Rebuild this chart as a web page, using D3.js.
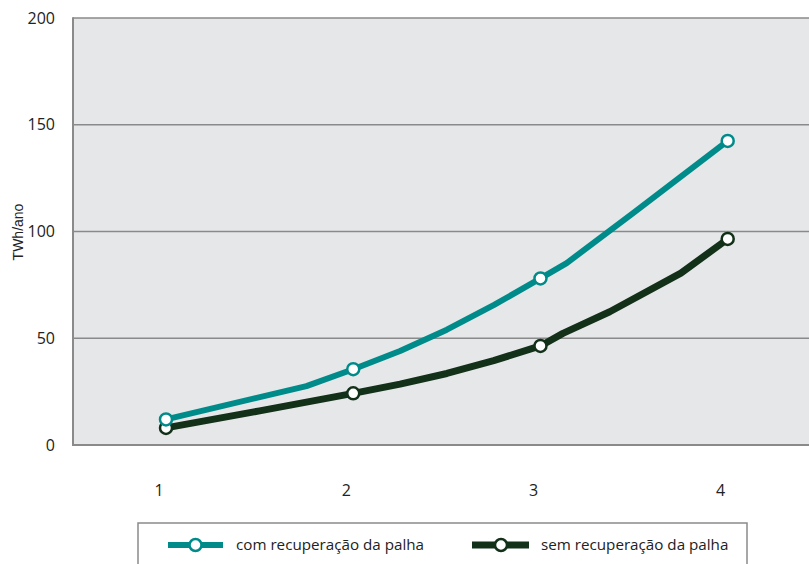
<!DOCTYPE html>
<html><head><meta charset="utf-8">
<script src="https://cdn.jsdelivr.net/npm/d3@7"></script>
<style>body{margin:0;background:#fff}svg{display:block}</style>
</head><body><svg id="c" width="809" height="564"></svg>
<script>
const xTicks = [1, 2, 3, 4];
const yTicks = [0, 50, 100, 150, 200];
const comX = [1, 1.75, 2, 2.25, 2.5, 2.75, 3, 3.14, 3.5, 4];
const comY = [12, 27.6, 35.5, 44, 54, 65.5, 78, 85.2, 109, 142.4];
const semX = [1, 1.5, 2, 2.25, 2.5, 2.75, 3, 3.12, 3.37, 3.75, 4];
const semY = [8, 16, 24.2, 28.5, 33.5, 39.5, 46.4, 52.3, 62.4, 80.5, 96.5];
const seriesNames = ["com recuperação da palha", "sem recuperação da palha"];
const colors = ["#008b8b", "#133019"];

const svg = d3.select("#c");
const x = d3.scaleLinear().domain([1, 4]).range([166, 727.7]);
const y = d3.scaleLinear().domain([0, 200]).range([445, 18]);
const font = "'Open Sans', sans-serif";

svg.append("rect").attr("x", 73).attr("y", 18).attr("width", 809 - 73).attr("height", 445 - 18).attr("fill", "#e6e7e9");

// grid
svg.selectAll(".g").data(yTicks).enter().append("line")
  .attr("x1", 73).attr("x2", 809).attr("y1", d => y(d)).attr("y2", d => y(d))
  .attr("stroke", "#8a8a8a").attr("stroke-width", 1.5);
svg.append("line").attr("x1", 73).attr("x2", 73).attr("y1", 17.3).attr("y2", 445.7)
  .attr("stroke", "#8a8a8a").attr("stroke-width", 2);
svg.append("line").attr("x1", 72).attr("x2", 809).attr("y1", 445).attr("y2", 445)
  .attr("stroke", "#8a8a8a").attr("stroke-width", 2);

// y tick labels
svg.selectAll(".yl").data(yTicks).enter().append("text")
  .attr("x", 55).attr("y", d => y(d)).attr("dy", "0.35em").attr("text-anchor", "end")
  .attr("font-family", font).attr("font-size", 16).attr("fill", "#222").text(d => d);
// x tick labels
svg.selectAll(".xl").data(xTicks).enter().append("text")
  .attr("x", d => x(d) - 7).attr("y", 490).attr("dy", "0.35em").attr("text-anchor", "middle")
  .attr("font-family", font).attr("font-size", 16).attr("fill", "#222").text(d => d);
// y title
svg.append("text").attr("transform", "translate(23,232) rotate(-90)").attr("text-anchor", "middle")
  .attr("font-family", "'Liberation Sans', Arial, sans-serif").attr("font-size", 14).attr("fill", "#222").text("TWh/ano");

const series = [
  { xs: comX, ys: comY, color: colors[0], w: 6 },
  { xs: semX, ys: semY, color: colors[1], w: 7 }
];
const line = d3.line().x(d => x(d[0])).y(d => y(d[1]));
[series[1], series[0]].forEach(s => {
  const pts = s.xs.map((v, i) => [v, s.ys[i]]);
  svg.append("path").datum(pts).attr("d", line).attr("fill", "none")
    .attr("stroke", s.color).attr("stroke-width", s.w).attr("stroke-linejoin", "round");
});
[series[1], series[0]].forEach(s => {
  const pts = s.xs.map((v, i) => [v, s.ys[i]]).filter(p => Number.isInteger(p[0]));
  svg.selectAll(null).data(pts).enter().append("circle")
    .attr("cx", d => x(d[0])).attr("cy", d => y(d[1])).attr("r", 6)
    .attr("fill", "#fff").attr("stroke", s.color).attr("stroke-width", 2.5);
});

// legend
svg.append("rect").attr("x", 138).attr("y", 523).attr("width", 609).attr("height", 60)
  .attr("fill", "#fff").attr("stroke", "#8a8a8a").attr("stroke-width", 1.5);
const leg = [{ x0: 168, x1: 223, cx: 195.5, tx: 236 }, { x0: 472, x1: 529, cx: 501, tx: 541 }];
leg.forEach((l, i) => {
  svg.append("line").attr("x1", l.x0).attr("x2", l.x1).attr("y1", 545).attr("y2", 545)
    .attr("stroke", colors[i]).attr("stroke-width", i ? 7 : 6);
  svg.append("circle").attr("cx", l.cx).attr("cy", 545).attr("r", 6)
    .attr("fill", "#fff").attr("stroke", colors[i]).attr("stroke-width", 2.5);
  svg.append("text").attr("x", l.tx).attr("y", 545).attr("dy", "0.35em")
    .attr("font-family", font).attr("font-size", 15.2).attr("fill", "#222").text(seriesNames[i]);
});
</script></body></html>
